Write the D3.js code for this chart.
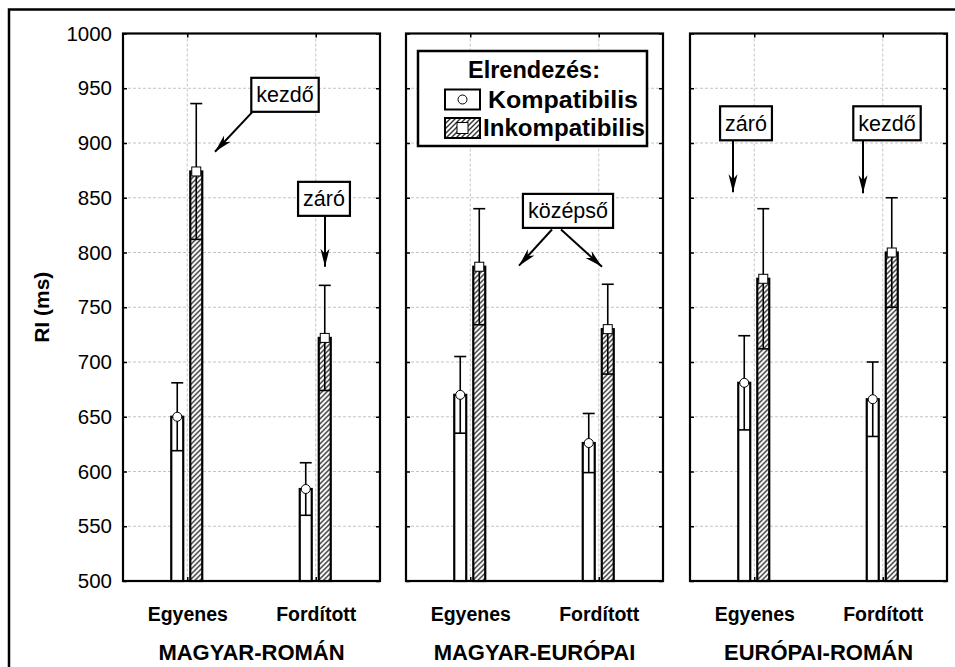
<!DOCTYPE html>
<html>
<head>
<meta charset="utf-8">
<script src="https://cdn.jsdelivr.net/npm/d3@7"></script>
<style>
  body { margin: 0; background: #fff; }
  text { font-family: Arial, "Liberation Sans", sans-serif; fill: #000; }
</style>
</head>
<body>
<div id="chart"></div>
<script>
/* Data */
const panelNames = ["MAGYAR-ROMÁN", "MAGYAR-EURÓPAI", "EURÓPAI-ROMÁN"];
const conditions = ["Egyenes", "Fordított"];
const series = ["Kompatibilis", "Inkompatibilis"];
// one row per panel: [Egyenes, Fordított]
const kompMean = [[650, 584], [670, 626], [681, 666]];
const kompErr = [[31, 24], [35, 27], [43, 34]];
const inkompMean = [[874, 722], [787, 730], [776, 800]];
const inkompErr = [[62, 48], [53, 41], [64, 50]];
const yTicks = [500, 550, 600, 650, 700, 750, 800, 850, 900, 950, 1000];

/* Annotation boxes: x offset inside panel (px), y in ms */
const notes = [
  { panel: 0, text: "kezdő", cx: 162, cy: 944, arrows: [[129, 928, 92, 892]] },
  { panel: 0, text: "záró", cx: 201, cy: 849, arrows: [[202, 833, 202, 787]] },
  { panel: 1, text: "középső", cx: 162, cy: 838, arrows: [[146, 821, 113, 788], [155, 821, 196, 787]] },
  { panel: 2, text: "záró", cx: 56, cy: 918, arrows: [[43, 902, 43, 855]] },
  { panel: 2, text: "kezdő", cx: 197, cy: 918, arrows: [[173, 902, 173, 854]] }
];

const width = 955, height = 667;
const plotTop = 33.5, plotBottom = 581;
const panelX = [123, 406, 690], panelW = 257;

const svg = d3.select("#chart")
  .append("svg")
  .attr("width", width)
  .attr("height", height);

const defs = svg.append("defs");
const hatch = defs.append("pattern")
  .attr("id", "hatch")
  .attr("patternUnits", "userSpaceOnUse")
  .attr("width", 5).attr("height", 5);
hatch.append("rect").attr("width", 5).attr("height", 5).attr("fill", "#fff");
hatch.append("path")
  .attr("d", "M-1,1 l2,-2 M0,5 l5,-5 M4,6 l2,-2")
  .attr("stroke", "#333").attr("stroke-width", 1.4);

defs.append("marker")
  .attr("id", "arrow")
  .attr("markerUnits", "userSpaceOnUse")
  .attr("viewBox", "-20 -6 22 12")
  .attr("markerWidth", 22).attr("markerHeight", 12)
  .attr("refX", 0).attr("refY", 0)
  .attr("orient", "auto")
  .append("path")
  .attr("d", "M0,0 L-18,-4.5 L-13,0 L-18,4.5 Z")
  .attr("fill", "#000");

/* outer frame (runs off the right and bottom edges) */
svg.append("rect")
  .attr("x", 9).attr("y", 9.5)
  .attr("width", 1200).attr("height", 1200)
  .attr("fill", "none").attr("stroke", "#000").attr("stroke-width", 2.5);

/* Scales */
const y = d3.scaleLinear().domain([500, 1000]).range([plotBottom, plotTop]);
const x = d3.scalePoint().domain(conditions).range([0, panelW]).padding(0.5);
const xs = d3.scaleBand().domain(series).range([-16, 15]).paddingInner(0.37);

panelNames.forEach((name, p) => {
  const g = svg.append("g").attr("transform", `translate(${panelX[p]},0)`);

  // gridlines
  g.append("g")
    .selectAll("line")
    .data(yTicks.filter(t => t > 500 && t < 1000))
    .join("line")
    .attr("x1", 0).attr("x2", panelW)
    .attr("y1", d => y(d)).attr("y2", d => y(d))
    .attr("stroke", "#c4c4c4").attr("stroke-dasharray", "3,2");
  g.append("g")
    .selectAll("line")
    .data(conditions)
    .join("line")
    .attr("x1", d => x(d)).attr("x2", d => x(d))
    .attr("y1", plotTop).attr("y2", plotBottom)
    .attr("stroke", "#c4c4c4").attr("stroke-dasharray", "3,2");

  // axes with inward ticks
  const left = g.append("g")
    .call(d3.axisLeft(y).tickValues(yTicks).tickSize(-4).tickPadding(11)
      .tickFormat(p === 0 ? d3.format("d") : () => ""));
  left.selectAll("text").style("font-size", "20.5px").style("font-family", "Arial, 'Liberation Sans', sans-serif");
  g.append("g")
    .attr("transform", `translate(${panelW},0)`)
    .call(d3.axisRight(y).tickValues(yTicks).tickSize(-4).tickFormat(() => ""));
  g.append("g")
    .attr("transform", `translate(0,${plotBottom})`)
    .call(d3.axisBottom(x).tickSize(-4).tickPadding(26))
    .selectAll("text")
    .style("font-size", "19.5px").style("font-weight", "bold")
    .style("font-family", "Arial, 'Liberation Sans', sans-serif");
  g.append("g")
    .attr("transform", `translate(0,${plotTop})`)
    .call(d3.axisTop(x).tickSize(-4).tickFormat(() => ""));
  g.selectAll(".domain").remove();
  g.selectAll(".tick line").attr("stroke", "#000").attr("stroke-width", 1.5);

  // panel frame
  g.append("rect")
    .attr("x", 0).attr("y", plotTop)
    .attr("width", panelW).attr("height", plotBottom - plotTop)
    .attr("fill", "none").attr("stroke", "#000").attr("stroke-width", 2.2);

  // panel title
  g.append("text")
    .attr("x", panelW / 2).attr("y", 660)
    .attr("text-anchor", "middle")
    .style("font-size", "22px").style("font-weight", "bold")
    .text(name);

  // bars
  const rows = [];
  conditions.forEach((c, i) => {
    rows.push({ c, s: series[0], mean: kompMean[p][i], err: kompErr[p][i] });
    rows.push({ c, s: series[1], mean: inkompMean[p][i], err: inkompErr[p][i] });
  });

  const bar = g.append("g").selectAll("g")
    .data(rows)
    .join("g")
    .attr("transform", d => `translate(${x(d.c) + xs(d.s)},0)`);

  bar.append("rect")
    .attr("x", 0).attr("width", xs.bandwidth())
    .attr("y", d => y(d.mean))
    .attr("height", d => y(500) - y(d.mean))
    .attr("fill", d => d.s === series[0] ? "#fff" : "url(#hatch)")
    .attr("stroke", "#000").attr("stroke-width", 2.2);

  const bw = xs.bandwidth();
  bar.append("line")
    .attr("x1", bw / 2).attr("x2", bw / 2)
    .attr("y1", d => y(d.mean - d.err)).attr("y2", d => y(d.mean + d.err))
    .attr("stroke", "#000").attr("stroke-width", 1.6);
  bar.append("line")
    .attr("x1", 0).attr("x2", bw)
    .attr("y1", d => y(d.mean + d.err)).attr("y2", d => y(d.mean + d.err))
    .attr("stroke", "#000").attr("stroke-width", 1.6);
  bar.append("line")
    .attr("x1", 0).attr("x2", bw)
    .attr("y1", d => y(d.mean - d.err)).attr("y2", d => y(d.mean - d.err))
    .attr("stroke", "#000").attr("stroke-width", 1.6);

  // markers
  bar.filter(d => d.s === series[0]).append("circle")
    .attr("cx", bw / 2).attr("cy", d => y(d.mean)).attr("r", 4.5)
    .attr("fill", "#fff").attr("stroke", "#000").attr("stroke-width", 1);
  bar.filter(d => d.s === series[1]).append("rect")
    .attr("x", bw / 2 - 4.5).attr("y", d => y(d.mean) - 4.5)
    .attr("width", 9).attr("height", 9)
    .attr("fill", "#fff").attr("stroke", "#000").attr("stroke-width", 1);
});

/* Y axis label */
svg.append("text")
  .attr("transform", `translate(49,${(plotTop + plotBottom) / 2}) rotate(-90)`)
  .attr("text-anchor", "middle")
  .style("font-size", "21px").style("font-weight", "bold")
  .text("RI (ms)");

/* Annotations */
notes.forEach(n => {
  const g = svg.append("g").attr("transform", `translate(${panelX[n.panel]},0)`);
  n.arrows.forEach(a => {
    g.append("line")
      .attr("x1", a[0]).attr("y1", y(a[1]))
      .attr("x2", a[2]).attr("y2", y(a[3]))
      .attr("stroke", "#000").attr("stroke-width", 2)
      .attr("marker-end", "url(#arrow)");
  });
  const box = g.append("rect");
  const t = g.append("text")
    .attr("x", n.cx).attr("y", y(n.cy))
    .attr("text-anchor", "middle")
    .attr("dy", "0.35em")
    .style("font-size", "21.5px")
    .text(n.text);
  const bb = t.node().getBBox();
  box.attr("x", n.cx - bb.width / 2 - 5).attr("y", y(n.cy) - 17)
    .attr("width", bb.width + 10).attr("height", 34)
    .attr("fill", "#fff").attr("stroke", "#000").attr("stroke-width", 2.2);
});

/* Legend */
const lg = svg.append("g").attr("transform", `translate(${panelX[1]},0)`);
lg.append("rect")
  .attr("x", 12).attr("y", 51).attr("width", 229).attr("height", 95)
  .attr("fill", "#fff").attr("stroke", "#000").attr("stroke-width", 2.5);
lg.append("text")
  .attr("x", 128).attr("y", 78)
  .attr("text-anchor", "middle")
  .attr("textLength", 132).attr("lengthAdjust", "spacingAndGlyphs")
  .style("font-size", "23px").style("font-weight", "bold")
  .text("Elrendezés:");
const ly = d3.scalePoint().domain(series).range([99.5, 128]);
const item = lg.selectAll(".item")
  .data(series)
  .join("g")
  .attr("class", "item")
  .attr("transform", d => `translate(0,${ly(d)})`);
item.append("rect")
  .attr("x", 39).attr("y", -10).attr("width", 35).attr("height", 20)
  .attr("fill", (d, i) => i === 0 ? "#fff" : "url(#hatch)")
  .attr("stroke", "#000").attr("stroke-width", 2);
item.filter((d, i) => i === 0).append("circle")
  .attr("cx", 56.5).attr("cy", 0).attr("r", 4.5)
  .attr("fill", "#fff").attr("stroke", "#000");
item.filter((d, i) => i === 1).append("rect")
  .attr("x", 51).attr("y", -5.5).attr("width", 11).attr("height", 11)
  .attr("fill", "#fff").attr("stroke", "#000");
item.append("text")
  .attr("x", (d, i) => i === 0 ? 82 : 77).attr("y", 0).attr("dy", "0.36em")
  .attr("textLength", (d, i) => i === 0 ? 150 : 162).attr("lengthAdjust", "spacingAndGlyphs")
  .style("font-size", "23px").style("font-weight", "bold")
  .text(d => d);
</script>
</body>
</html>
